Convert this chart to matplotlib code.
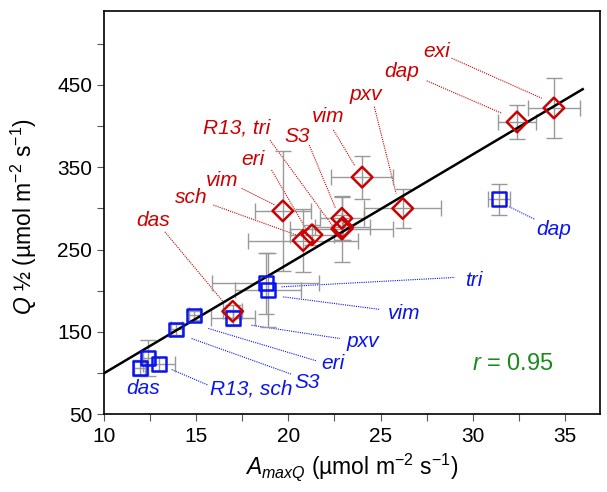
import numpy as np
import matplotlib
matplotlib.use('Agg')
from matplotlib import pyplot as plt

plt.rcParams['font.family'] = ['Liberation Sans', 'DejaVu Sans']
plt.rcParams['mathtext.fontset'] = 'custom'
plt.rcParams['mathtext.rm'] = 'Liberation Sans'
plt.rcParams['mathtext.it'] = 'Liberation Sans:italic'

# red diamonds
red_names = ['das', 'sch', 'eri', 'vim', 'R13', 'tri', 'S3', 'vim', 'pxv', 'dap', 'exi']
red_x = [16.98, 20.8, 21.28, 19.7, 22.9, 22.95, 22.9, 24.0, 26.2, 32.4, 34.4]
red_y = [175, 261, 268, 297, 275, 277, 288, 338, 300, 405, 422]
red_xerr = [0.5, 3.0, 1.2, 1.5, 2.8, 1.5, 1.2, 1.7, 2.1, 1.05, 1.4]
red_yerr = [8, 38, 12, 73, 40, 15, 26, 26, 24, 21, 37]

# blue squares
blue_names = ['das', 'R13', 'sch', 'S3', 'eri', 'pxv', 'vim', 'tri', 'dap']
blue_x = [11.95, 12.4, 12.98, 13.92, 14.9, 17.0, 18.9, 18.78, 31.44]
blue_y = [106, 118, 111, 153, 170, 167, 201, 209, 311]
blue_xerr = [0.3, 0.3, 0.85, 0.3, 0.3, 1.2, 1.8, 2.9, 0.6]
blue_yerr = [10, 22, 8, 7, 6, 10, 45, 37, 19]

# regression line end points
fit_x = [10, 35.96]
fit_y = [99.8, 444.8]
r_value = 0.95

RED = '#cc0000'
BLUE = '#0a14f0'
GRAY = '#999999'

# label text, text position, leader start, leader end
red_labels = [
    ('exi', (28.04, 490.5), (28.85, 482.5), (33.74, 433.8)),
    ('dap', (26.14, 466), (27.5, 455), (31.57, 415.6)),
    ('pxv', (24.19, 437.8), (24.66, 423.6), (25.84, 318.2)),
    ('vim', (22.17, 411.5), (22.44, 395.3), (23.6, 351.9)),
    ('S3', (20.45, 387), (21.13, 377), (22.56, 300)),
    ('R13, tri', (17.2, 397.4), (19.0, 383), (22.43, 277.7)),
    ('eri', (18.1, 359.7), (19.09, 346.7), (20.99, 273.7)),
    ('vim', (16.38, 334.5), (17.46, 324.4), (19.27, 304.1)),
    ('sch', (14.75, 313), (15.93, 304.1), (20.45, 267.6)),
    ('das', (12.67, 285), (13.3, 271.6), (16.47, 186.5)),
]
blue_labels = [
    ('dap', (34.37, 274.5), (31.98, 302), (33.37, 286.7)),
    ('tri', (30.07, 212.9), (19.63, 204.8), (29.03, 216.2)),
    ('vim', (26.3, 172.4), (19.72, 192.6), (24.97, 177.3)),
    ('pxv', (24.06, 137.9), (18.0, 158.2), (22.8, 142)),
    ('eri', (22.43, 111.6), (15.66, 154.2), (21.53, 114.8)),
    ('S3', (21.0, 88), (14.75, 142), (20.17, 98.6)),
    ('R13, sch', (18.0, 81.2), (13.67, 104.3), (15.66, 85.3)),
    ('das', (12.13, 81.2), None, None),
]

fig = plt.figure(figsize=(6.07, 4.92), dpi=100)
ax = fig.add_axes([0.1713, 0.158, 0.8172, 0.820])

ax.errorbar(blue_x, blue_y, xerr=blue_xerr, yerr=blue_yerr, fmt='none',
            ecolor=GRAY, elinewidth=1, capsize=5.5, capthick=1, zorder=2)
ax.errorbar(red_x, red_y, xerr=red_xerr, yerr=red_yerr, fmt='none',
            ecolor=GRAY, elinewidth=1, capsize=5.5, capthick=1, zorder=2)

ax.plot(fit_x, fit_y, color='black', lw=1.8, zorder=3)

ax.scatter(blue_x, blue_y, marker='s', s=100, facecolors='none',
           edgecolors=BLUE, linewidths=1.8, zorder=4)
ax.scatter(red_x, red_y, marker='D', s=110, facecolors='none',
           edgecolors=RED, linewidths=1.8, zorder=5)

for labels, col in [(red_labels, RED), (blue_labels, BLUE)]:
    for txt, tpos, p0, p1 in labels:
        ax.text(tpos[0], tpos[1], txt, color=col, fontsize=15, style='italic',
                ha='center', va='center')
        if p0 is not None:
            ax.plot([p0[0], p1[0]], [p0[1], p1[1]], color=col, lw=0.8,
                    linestyle=(0, (1, 1)), zorder=1)

ax.text(32.2, 111.6, r'$r$ = %.2f' % r_value, color='#1a8a1a', fontsize=17,
        ha='center', va='center')

ax.set_xlim(10, 36.9)
ax.set_ylim(50, 540)
ax.set_xticks([10, 15, 20, 25, 30, 35])
ax.set_xticks(np.arange(12.5, 37, 5), minor=True)
ax.set_yticks([50, 150, 250, 350, 450])
ax.set_yticks([100, 200, 300, 400, 500], minor=True)
ax.tick_params(which='both', direction='out', length=5, width=0.8,
               color='#555555', labelsize=15)
ax.tick_params(axis='x', pad=4)
for sp in ax.spines.values():
    sp.set_linewidth(1.2)

ax.set_xlabel(r'$A_{maxQ}$ (µmol m$^{-2}$ s$^{-1}$)', fontsize=16.5)
ax.set_ylabel(r'$Q$ ½ (µmol m$^{-2}$ s$^{-1}$)', fontsize=16.5)
ax.yaxis.set_label_coords(-0.13, 0.49)

fig.savefig('out.png', dpi=100)
